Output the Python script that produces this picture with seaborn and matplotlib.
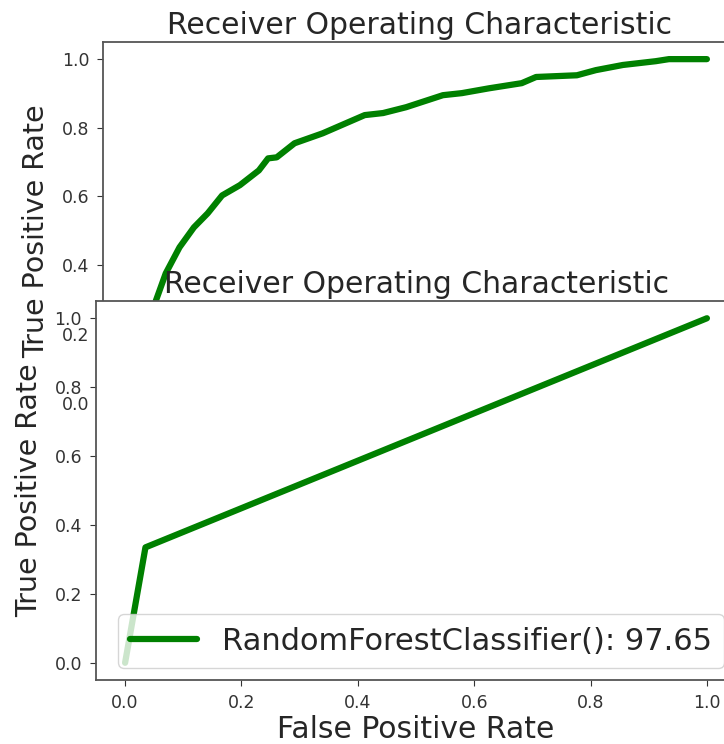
import numpy as np
import pandas as pd
import matplotlib
matplotlib.use("Agg")
import matplotlib.pyplot as plt
import seaborn as sns

sns.set_style("ticks")
plt.rcParams["font.family"] = ["DejaVu Sans"]

# ---- datos ----
# curva de arriba (queda tapada en parte por el segundo eje)
fpr_top = [0.0, 0.012, 0.025, 0.035, 0.042, 0.059, 0.083, 0.108, 0.132, 0.157,
           0.188, 0.221, 0.237, 0.252, 0.283, 0.332, 0.365, 0.405, 0.437, 0.477,
           0.541, 0.574, 0.621, 0.678, 0.703, 0.774, 0.807, 0.854, 0.911, 0.934, 1.0]
tpr_top = [0.0, 0.08, 0.17, 0.24, 0.297, 0.376, 0.452, 0.510, 0.551, 0.603,
           0.633, 0.676, 0.711, 0.714, 0.755, 0.784, 0.808, 0.837, 0.843, 0.860,
           0.895, 0.901, 0.915, 0.930, 0.948, 0.953, 0.968, 0.983, 0.994, 1.0, 1.0]

# curva de abajo: RandomForest
fpr_rf = [0.0, 0.035, 1.0]
tpr_rf = [0.0, 0.335, 1.0]
rf_label = "RandomForestClassifier(): 97.65"

title = "Receiver Operating Characteristic"
GREEN = "green"

fig = plt.figure(figsize=(7.24, 7.44), dpi=100)

# dos ejes superpuestos, como en la captura original
ax_top = fig.add_axes([0.1423, 0.4359, 0.8738, 0.5077])
ax_bot = fig.add_axes([0.1326, 0.0860, 0.8840, 0.5094])

sns.lineplot(x=fpr_top, y=tpr_top, ax=ax_top, color=GREEN, linewidth=4.5,
             sort=False, estimator=None)
sns.lineplot(x=fpr_rf, y=tpr_rf, ax=ax_bot, color=GREEN, linewidth=4.5,
             sort=False, estimator=None, label=rf_label)

for ax in (ax_top, ax_bot):
    ax.set_xlim(-0.05, 1.05)
    ax.set_ylim(-0.05, 1.05)
    ax.set_xticks(np.arange(0, 1.01, 0.2))
    ax.set_yticks(np.arange(0, 1.01, 0.2))
    ax.tick_params(labelsize=12.5, length=4.5, pad=5.5, colors="#333333",
                   labelcolor="#333333")
    for s in ax.spines.values():
        s.set_color("#555555")
        s.set_linewidth(1.3)
    ax.set_title(title, fontsize=21.5, pad=6)
    ax.set_ylabel("True Positive Rate", fontsize=20.5, labelpad=8)
    ax.set_facecolor("white")

ax_bot.set_xlabel("False Positive Rate", fontsize=21.5, labelpad=2)
ax_bot.legend(loc="lower right", fontsize=22, handlelength=2.2,
              borderaxespad=0.4)

plt.savefig("out.png", dpi=100)
plt.close()
